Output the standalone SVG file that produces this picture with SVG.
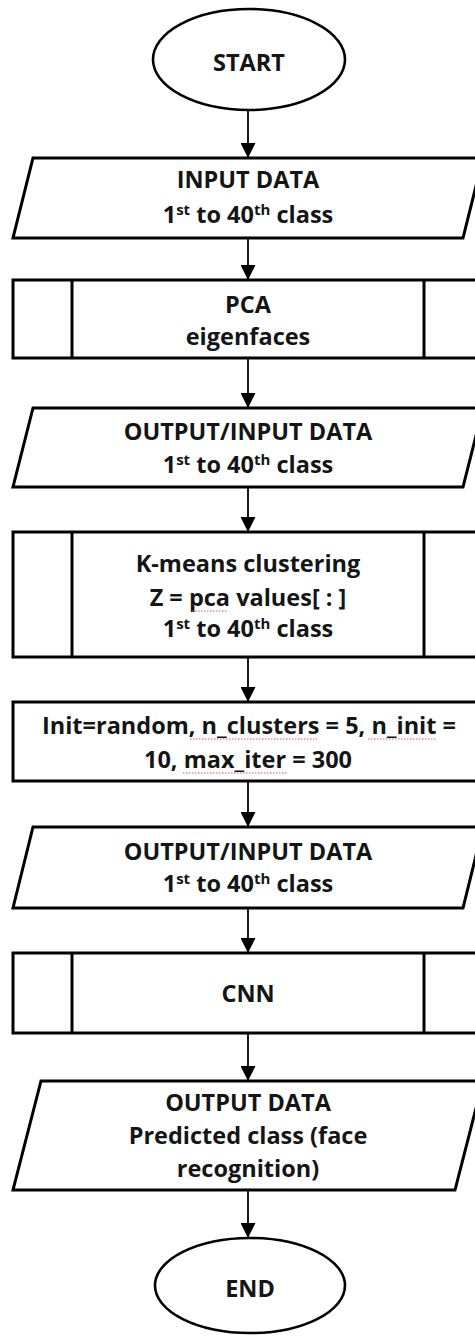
<svg xmlns="http://www.w3.org/2000/svg" width="475" height="1336" viewBox="0 0 475 1336">
  <style>
    .shape { fill: #ffffff; stroke: #000000; stroke-width: 3; stroke-linejoin: miter; }
    .term { fill: #ffffff; stroke: #000000; stroke-width: 2.6; }
    .bar { stroke: #000000; stroke-width: 3; }
    .link { stroke: #000000; stroke-width: 1.8; fill: none; marker-end: url(#head); }
    .t { font-family: "Open Sans", "Liberation Sans", sans-serif; font-weight: 700; font-size: 23.5px; fill: #151515; text-anchor: middle; }
    .sup { font-size: 15px; }
    .spell { stroke: #d05050; stroke-width: 1.2; stroke-dasharray: 1.5 1.5; fill: none; }
  </style>
  <defs>
    <marker id="head" markerUnits="userSpaceOnUse" markerWidth="15" markerHeight="15" refX="15" refY="7.5" orient="auto">
      <path d="M0,0 L15,7.5 L0,15 Z" fill="#000000"/>
    </marker>
  </defs>
  <rect width="475" height="1336" fill="#ffffff"/>

  <!-- connectors -->
  <g id="connectors">
    <line class="link" x1="248" y1="110" x2="248" y2="158"/>
    <line class="link" x1="248" y1="238" x2="248" y2="280"/>
    <line class="link" x1="248" y1="358" x2="248" y2="408"/>
    <line class="link" x1="248" y1="487" x2="248" y2="532"/>
    <line class="link" x1="248" y1="657" x2="248" y2="702"/>
    <line class="link" x1="248" y1="781" x2="248" y2="827"/>
    <line class="link" x1="248" y1="908" x2="248" y2="953"/>
    <line class="link" x1="248" y1="1033" x2="248" y2="1081"/>
    <line class="link" x1="248" y1="1190" x2="248" y2="1238"/>
  </g>

  <g id="start">
    <ellipse class="term" cx="249" cy="59.5" rx="96" ry="50.5"/>
    <text class="t" x="249" y="71">START</text>
  </g>

  <g id="input-data">
    <polygon class="shape" points="33,158 483,158 463,238 13,238"/>
    <text class="t" x="248" y="188">INPUT DATA</text>
    <text class="t" x="248" y="223">1<tspan class="sup" dy="-8">st</tspan><tspan dy="8"> to 40</tspan><tspan class="sup" dy="-8">th</tspan><tspan dy="8"> class</tspan></text>
  </g>

  <g id="pca">
    <rect class="shape" x="13" y="280" width="470" height="78"/>
    <line class="bar" x1="72" y1="280" x2="72" y2="358"/>
    <line class="bar" x1="424" y1="280" x2="424" y2="358"/>
    <text class="t" x="248" y="313">PCA</text>
    <text class="t" x="248" y="345">eigenfaces</text>
  </g>

  <g id="output-input-1">
    <polygon class="shape" points="33,408 483,408 463,487 13,487"/>
    <text class="t" x="248" y="440">OUTPUT/INPUT DATA</text>
    <text class="t" x="248" y="473">1<tspan class="sup" dy="-8">st</tspan><tspan dy="8"> to 40</tspan><tspan class="sup" dy="-8">th</tspan><tspan dy="8"> class</tspan></text>
  </g>

  <g id="kmeans">
    <rect class="shape" x="13" y="532" width="470" height="125"/>
    <line class="bar" x1="72" y1="532" x2="72" y2="657"/>
    <line class="bar" x1="424" y1="532" x2="424" y2="657"/>
    <text class="t" x="248" y="572">K-means clustering</text>
    <text class="t" x="248" y="606">Z = pca values[ : ]</text>
    <text class="t" x="248" y="637">1<tspan class="sup" dy="-8">st</tspan><tspan dy="8"> to 40</tspan><tspan class="sup" dy="-8">th</tspan><tspan dy="8"> class</tspan></text>
    <path class="spell" d="M192,611 H228"/>
  </g>

  <g id="kmeans-params">
    <rect class="shape" x="13" y="702" width="470" height="79"/>
    <text class="t" x="249" y="734">Init=random, n_clusters = 5, n_init =</text>
    <text class="t" x="248" y="768">10, max_iter = 300</text>
    <path class="spell" d="M190,739 H317 M368,739 H437 M183,773 H287"/>
  </g>

  <g id="output-input-2">
    <polygon class="shape" points="33,827 483,827 463,908 13,908"/>
    <text class="t" x="248" y="860">OUTPUT/INPUT DATA</text>
    <text class="t" x="248" y="892">1<tspan class="sup" dy="-8">st</tspan><tspan dy="8"> to 40</tspan><tspan class="sup" dy="-8">th</tspan><tspan dy="8"> class</tspan></text>
  </g>

  <g id="cnn">
    <rect class="shape" x="13" y="953" width="470" height="80"/>
    <line class="bar" x1="72" y1="953" x2="72" y2="1033"/>
    <line class="bar" x1="424" y1="953" x2="424" y2="1033"/>
    <text class="t" x="248" y="1002">CNN</text>
  </g>

  <g id="output-data">
    <polygon class="shape" points="41,1081 483,1081 455,1190 13,1190"/>
    <text class="t" x="248" y="1111">OUTPUT DATA</text>
    <text class="t" x="248" y="1144">Predicted class (face</text>
    <text class="t" x="248" y="1177">recognition)</text>
  </g>

  <g id="end">
    <ellipse class="term" cx="250" cy="1285.5" rx="95" ry="47.5"/>
    <text class="t" x="250" y="1297">END</text>
  </g>
</svg>
